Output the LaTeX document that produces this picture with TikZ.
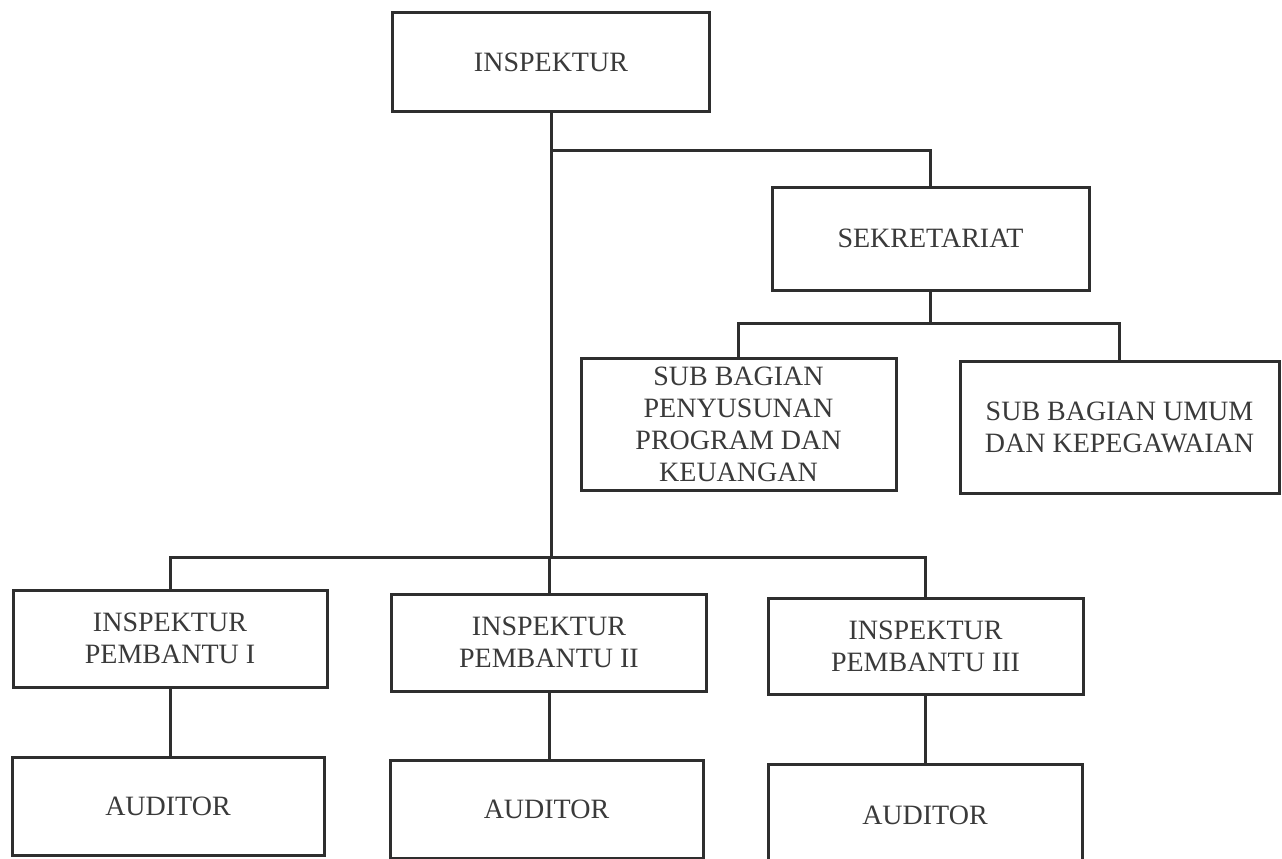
\documentclass[tikz,border=0pt]{standalone}
\usepackage{fontspec}
\setmainfont{Liberation Serif}
\definecolor{ink}{HTML}{2E2E2E}
\definecolor{txt}{HTML}{3A3A3A}
\begin{document}
\begin{tikzpicture}[x=1pt,y=-1pt,
  box/.style={draw=ink, line width=3pt, rectangle, inner sep=0pt, align=center,
    font=\fontsize{28}{32}\selectfont, text=txt},
  conn/.style={draw=ink, line width=3pt}]
\useasboundingbox[fill=white] (0,0) rectangle (1282,859);
% boxes
\node[box, minimum width=317pt, minimum height=98pt] (insp) at (551,62) {INSPEKTUR};
\node[box, minimum width=317pt, minimum height=103pt] (sek) at (930.5,238.5) {SEKRETARIAT};
\node[box, minimum width=315pt, minimum height=132pt] (sub1) at (738.5,424) {SUB BAGIAN\\PENYUSUNAN\\PROGRAM DAN\\KEUANGAN};
\node[box, minimum width=319pt, minimum height=132pt] (sub2) at (1119.5,427) {SUB BAGIAN UMUM\\DAN KEPEGAWAIAN};
\node[box, minimum width=314pt, minimum height=97pt] (ip1) at (170,638.5) {INSPEKTUR\\PEMBANTU I};
\node[box, minimum width=315pt, minimum height=97pt] (ip2) at (549,642.5) {INSPEKTUR\\PEMBANTU II};
\node[box, minimum width=315pt, minimum height=96pt] (ip3) at (925.5,646) {INSPEKTUR\\PEMBANTU III};
\node[box, minimum width=312pt, minimum height=98pt] (au1) at (168,806) {AUDITOR};
\node[box, minimum width=313pt, minimum height=98pt] (au2) at (546.5,809) {AUDITOR};
\node[box, minimum width=314pt, minimum height=102pt] (au3) at (925,815) {AUDITOR};
% junction coordinates
\coordinate (hbar) at (0,557);
\coordinate (sbar) at (0,150);
\coordinate (subbar) at (0,323);
% main trunk
\draw[conn] (insp.south) -- (insp.south |- hbar);
\draw[conn] (insp.south |- sbar) -| (sek.north);
\draw[conn] (sek.south) -- (sek.south |- subbar);
\draw[conn] (sub1.north) |- (sub2.north |- subbar) -- (sub2.north);
\draw[conn] (ip1.north) |- (ip3.north |- hbar) -- (ip3.north);
\draw[conn] (ip2.north) -- (ip2.north |- hbar);
% auditors
\draw[conn] (ip1.south) -- (au1.north -| ip1.south);
\draw[conn] (ip2.south) -- (au2.north -| ip2.south);
\draw[conn] (ip3.south) -- (au3.north -| ip3.south);
\end{tikzpicture}
\end{document}
